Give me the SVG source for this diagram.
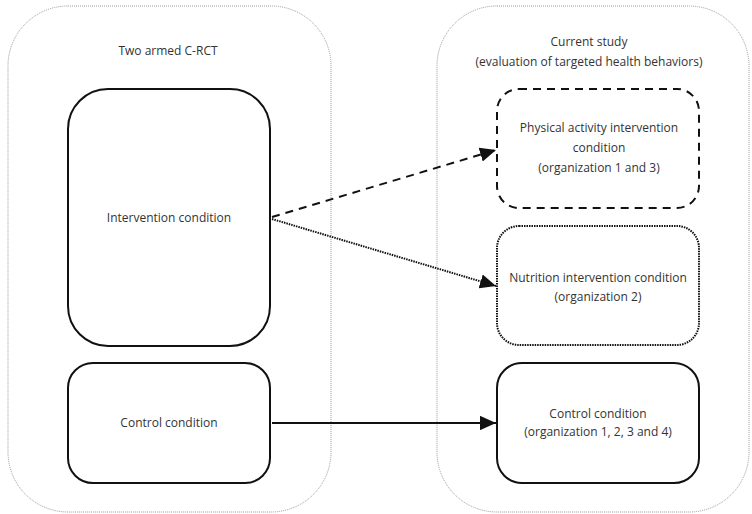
<svg xmlns="http://www.w3.org/2000/svg" width="752" height="514" viewBox="0 0 752 514">
<defs>
<style>
text{font-family:"Open Sans","Noto Sans","Liberation Sans",sans-serif;font-size:12px;fill:#333;text-anchor:middle}
.outer{fill:none;stroke:#999;stroke-width:1;stroke-dasharray:1 1}
.box{fill:#fff;stroke:#111;stroke-width:2}
.dash{stroke-dasharray:8 6}
.dot{stroke-dasharray:1.5 1}
.conn{fill:none;stroke:#111;stroke-width:2}
</style>
<marker id="ah" viewBox="0 0 10 9" refX="10" refY="4.5" markerWidth="8" markerHeight="7.2" markerUnits="strokeWidth" orient="auto"><path d="M0,0 L10,4.5 L0,9 z" fill="#111"/></marker>
</defs>
<rect width="752" height="514" fill="#fff"/>
<g id="left-container">
<rect class="outer" x="8" y="6" width="323" height="506" rx="60"/>
<text x="168" y="55">Two armed C-RCT</text>
</g>
<g id="right-container">
<rect class="outer" x="437" y="6" width="312" height="506" rx="60"/>
<text x="589" y="46">Current study</text>
<text x="589" y="66">(evaluation of targeted health behaviors)</text>
</g>
<g id="intervention">
<rect class="box" x="68" y="89" width="202" height="257" rx="40"/>
<text x="169" y="222">Intervention condition</text>
</g>
<g id="control-left">
<rect class="box" x="68" y="363" width="202" height="120" rx="25"/>
<text x="169" y="427">Control condition</text>
</g>
<g id="physical">
<rect class="box dash" x="497" y="89" width="202" height="119" rx="22"/>
<text x="599" y="132">Physical activity intervention</text>
<text x="599" y="152">condition</text>
<text x="599" y="172">(organization 1 and 3)</text>
</g>
<g id="nutrition">
<rect class="box dot" x="497" y="226" width="202" height="119" rx="22"/>
<text x="598" y="282">Nutrition intervention condition</text>
<text x="598" y="301">(organization 2)</text>
</g>
<g id="control-right">
<rect class="box" x="497" y="363" width="202" height="120" rx="25"/>
<text x="598" y="418">Control condition</text>
<text x="598" y="436">(organization 1, 2, 3 and 4)</text>
</g>
<g id="connectors">
<line class="conn dash" x1="272" y1="217" x2="496" y2="150" marker-end="url(#ah)"/>
<line class="conn dot" x1="272" y1="219" x2="496" y2="286" marker-end="url(#ah)"/>
<line class="conn" x1="272" y1="423" x2="496" y2="423" marker-end="url(#ah)"/>
</g>
</svg>
